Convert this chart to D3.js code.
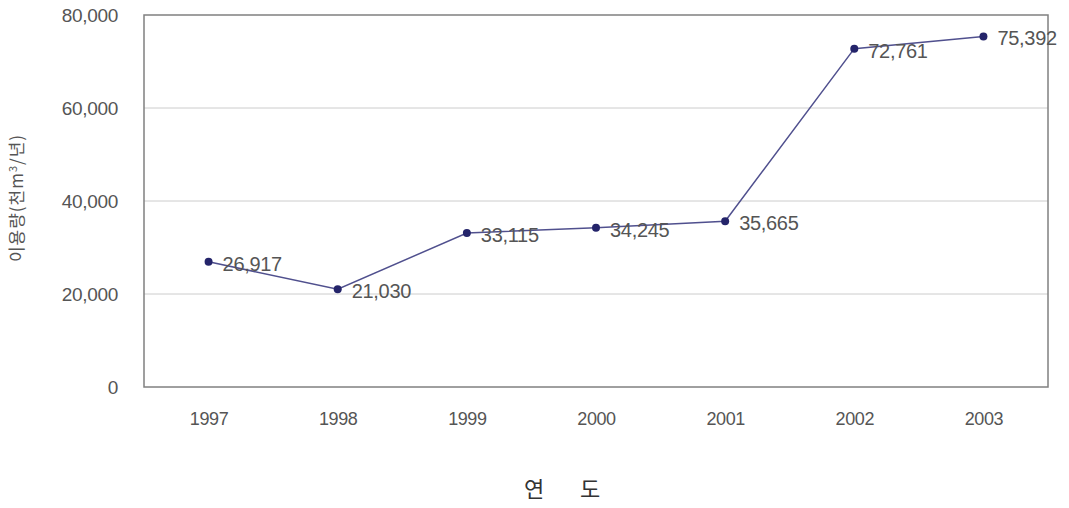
<!DOCTYPE html>
<html>
<head>
<meta charset="utf-8">
<script src="https://cdn.jsdelivr.net/npm/d3@7"></script>
<style>
body{margin:0;background:#fff;}
text{font-family:"Liberation Sans",Arial,sans-serif;}
</style>
</head>
<body>
<svg width="1069" height="508"></svg>
<script>
var years=['1997','1998','1999','2000','2001','2002','2003'];
var usage=[26917,21030,33115,34245,35665,72761,75392];
var yTicks=[0,20000,40000,60000,80000];

var svg=d3.select('svg');
var L=144,T=15,R=1048,B=387;

var x=d3.scalePoint().domain(years).range([L,R]).padding(0.5);
var y=d3.scaleLinear().domain([0,80000]).range([B,T]);
var fmt=d3.format(',');

// grid
svg.append('g').selectAll('line').data(yTicks.slice(1,4)).enter().append('line')
  .attr('x1',L).attr('x2',R).attr('y1',d=>y(d)).attr('y2',d=>y(d))
  .attr('stroke','#cccccc').attr('stroke-width',1);

// border
svg.append('rect').attr('x',L).attr('y',T).attr('width',R-L).attr('height',B-T)
  .attr('fill','none').attr('stroke','#808080').attr('stroke-width',1.5);

// y axis
var ya=svg.append('g').attr('transform','translate('+L+',0)')
  .call(d3.axisLeft(y).tickValues(yTicks).tickFormat(fmt).tickSize(0).tickPadding(26));
ya.select('.domain').remove();
ya.selectAll('text').attr('font-size',19).attr('fill','#555').attr('letter-spacing','-0.3px');

// x axis
var xa=svg.append('g').attr('transform','translate(0,'+B+')')
  .call(d3.axisBottom(x).tickSize(0).tickPadding(25));
xa.select('.domain').remove();
xa.selectAll('text').attr('font-size',18).attr('fill','#555').attr('letter-spacing','-0.4px');

// line
svg.append('path').datum(usage)
  .attr('d',d3.line().x((d,i)=>x(years[i])).y(d=>y(d)))
  .attr('fill','none').attr('stroke','#50508e').attr('stroke-width',1.5);

svg.append('g').selectAll('circle').data(usage).enter().append('circle')
  .attr('cx',(d,i)=>x(years[i])).attr('cy',d=>y(d)).attr('r',4)
  .attr('fill','#24246a');

svg.append('g').selectAll('text').data(usage).enter().append('text')
  .attr('x',(d,i)=>x(years[i])+14).attr('y',d=>y(d)+9)
  .attr('font-size',20).attr('fill','#555').attr('letter-spacing','-0.3px')
  .text(d=>fmt(d));

// titles
svg.append('text').attr('transform','translate(23,198) rotate(-90)')
  .attr('text-anchor','middle').attr('font-size',17).attr('fill','#555')
  .attr('letter-spacing','1px')
  .style('font-family','"Noto Sans CJK KR",sans-serif')
  .html('이용량(천m<tspan dy="-6" font-size="11">3</tspan><tspan dy="6">/년)</tspan>');

var xt=svg.append('text').attr('y',497).attr('font-size',22).attr('fill','#333')
  .style('font-family','"Noto Sans CJK KR",sans-serif');
xt.append('tspan').attr('x',524).text('연');
xt.append('tspan').attr('x',580).text('도');
</script>
</body>
</html>
